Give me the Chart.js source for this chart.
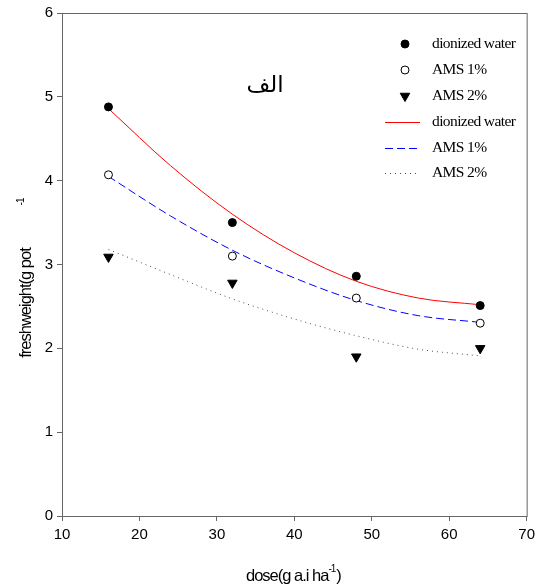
<!DOCTYPE html>
<html lang="en">
<head>
  <meta charset="UTF-8">
  <title>fresh weight vs dose</title>
  <script src="https://cdn.jsdelivr.net/npm/chart.js"></script>
  <style>
    body { margin: 0; background: #fff; }
    #wrap { width: 540px; height: 586px; }
  </style>
</head>
<body>
  <div id="wrap"><canvas id="myChart" width="540" height="586"></canvas></div>

  <script>
    // measured points
    const doses = [16, 32, 48, 64];
    const waterPts = [4.88, 3.50, 2.86, 2.51];
    const ams1Pts = [4.07, 3.10, 2.60, 2.30];
    const ams2Pts = [3.09, 2.78, 1.90, 2.00];

    // fitted curves
    const fitDoses = [16, 24, 32, 40, 48, 56, 64];
    const waterFit = [4.86, 4.18, 3.60, 3.14, 2.80, 2.60, 2.52];
    const ams1Fit = [4.05, 3.58, 3.17, 2.84, 2.57, 2.39, 2.31];
    const ams2Fit = [3.18, 2.88, 2.59, 2.35, 2.15, 1.99, 1.91];

    const xTicks = [10, 20, 30, 40, 50, 60, 70];
    const yTicks = [0, 1, 2, 3, 4, 5, 6];

    const toXY = (xs, ys) => xs.map((x, i) => ({ x: x, y: ys[i] }));

    const overlay = {
      id: 'overlay',
      afterDraw(chart) {
        const ctx = chart.ctx;
        const a = chart.chartArea;
        ctx.save();
        // frame
        ctx.strokeStyle = '#666';
        ctx.lineWidth = 1;
        ctx.strokeRect(a.left + 0.5, a.top + 0.5, a.right - a.left, a.bottom - a.top);

        // legend
        ctx.letterSpacing = '-0.6px';
        ctx.font = '15.5px "Liberation Serif"';
        ctx.fillStyle = '#000';
        ctx.textBaseline = 'middle';
        ctx.textAlign = 'left';
        const rows = [
          { y: 44, label: 'dionized water', ds: 0 },
          { y: 70, label: 'AMS 1%', ds: 1 },
          { y: 96, label: 'AMS 2%', ds: 2 },
          { y: 122, label: 'dionized water', ds: 3 },
          { y: 148, label: 'AMS 1%', ds: 4 },
          { y: 173, label: 'AMS 2%', ds: 5 }
        ];
        rows.forEach(r => {
          const d = chart.data.datasets[r.ds];
          if (r.ds < 3) {
            ctx.save();
            ctx.fillStyle = d.pointBackgroundColor;
            ctx.strokeStyle = '#000';
            ctx.lineWidth = 1;
            Chart.helpers.drawPoint(ctx, {
              pointStyle: d.pointStyle, radius: d.pointRadius,
              rotation: d.pointRotation || 0, borderWidth: 1
            }, 405, r.y);
            ctx.restore();
          } else {
            ctx.save();
            ctx.strokeStyle = d.borderColor;
            ctx.lineWidth = 1;
            ctx.setLineDash(d.borderDash || []);
            ctx.beginPath();
            ctx.moveTo(385, r.y + 0.5);
            ctx.lineTo(420, r.y + 0.5);
            ctx.stroke();
            ctx.restore();
          }
          ctx.fillText(r.label, 432, r.y);
        });

        // arabic label
        ctx.letterSpacing = '0px';
        ctx.font = '23px "DejaVu Sans"';
        ctx.textAlign = 'center';
        ctx.fillText('الف', 265, 86);

        // x title
        ctx.letterSpacing = '-1px';
        ctx.font = '16.5px "Liberation Sans"';
        ctx.textAlign = 'left';
        const xt = 'dose(g a.i ha';
        const w = ctx.measureText(xt).width;
        const x0 = 246;
        ctx.fillText(xt, x0, 576);
        ctx.font = '10px "Liberation Sans"';
        ctx.fillText('-1', x0 + w, 569);
        const w2 = ctx.measureText('-1').width;
        ctx.font = '16.5px "Liberation Sans"';
        ctx.fillText(')', x0 + w + w2 + 1, 576);

        // y title
        ctx.save();
        ctx.translate(26, 0);
        ctx.rotate(-Math.PI / 2);
        ctx.textAlign = 'center';
        ctx.fillText('freshweight(g pot', -303, 0);
        ctx.font = '10px "Liberation Sans"';
        ctx.fillText('-1', -202, -5);
        ctx.restore();

        ctx.restore();
      }
    };

    new Chart(document.getElementById('myChart'), {
      type: 'scatter',
      data: {
        datasets: [
          { label: 'dionized water', data: toXY(doses, waterPts), pointStyle: 'circle', pointRadius: 4,
            pointBackgroundColor: '#000', pointBorderColor: '#000', showLine: false },
          { label: 'AMS 1%', data: toXY(doses, ams1Pts), pointStyle: 'circle', pointRadius: 4,
            pointBackgroundColor: '#fff', pointBorderColor: '#000', pointBorderWidth: 1, showLine: false },
          { label: 'AMS 2%', data: toXY(doses, ams2Pts), pointStyle: 'triangle', pointRadius: 5.5, pointRotation: 180,
            pointBackgroundColor: '#000', pointBorderColor: '#000', showLine: false },
          { label: 'dionized water', data: toXY(fitDoses, waterFit), showLine: true, pointRadius: 0,
            borderColor: '#ff0000', borderWidth: 1, cubicInterpolationMode: 'monotone' },
          { label: 'AMS 1%', data: toXY(fitDoses, ams1Fit), showLine: true, pointRadius: 0,
            borderColor: '#0000ff', borderWidth: 1, borderDash: [8, 4], cubicInterpolationMode: 'monotone' },
          { label: 'AMS 2%', data: toXY(fitDoses, ams2Fit), showLine: true, pointRadius: 0,
            borderColor: '#3d5a3d', borderWidth: 1, borderDash: [1, 4], cubicInterpolationMode: 'monotone' }
        ]
      },
      options: {
        responsive: false,
        animation: false,
        layout: { padding: { left: 0, right: 12, top: 11, bottom: 0 } },
        plugins: { legend: { display: false }, tooltip: { enabled: false } },
        scales: {
          x: {
            type: 'linear', min: 10, max: 70,
            afterBuildTicks: s => { s.ticks = xTicks.map(v => ({ value: v })); },
            afterFit: s => { s.height = 70; },
            grid: { drawOnChartArea: false, tickLength: 5, color: '#666' },
            border: { color: '#666' },
            ticks: { color: '#000', font: { family: 'Liberation Sans', size: 15 }, padding: 5, maxRotation: 0 }
          },
          y: {
            type: 'linear', min: 0, max: 6,
            afterBuildTicks: s => { s.ticks = yTicks.map(v => ({ value: v })); },
            afterFit: s => { s.width = 62; },
            grid: { drawOnChartArea: false, tickLength: 5, color: '#666' },
            border: { color: '#666' },
            ticks: { color: '#000', font: { family: 'Liberation Sans', size: 15 }, padding: 4 }
          }
        }
      },
      plugins: [overlay]
    });
  </script>
</body>
</html>
